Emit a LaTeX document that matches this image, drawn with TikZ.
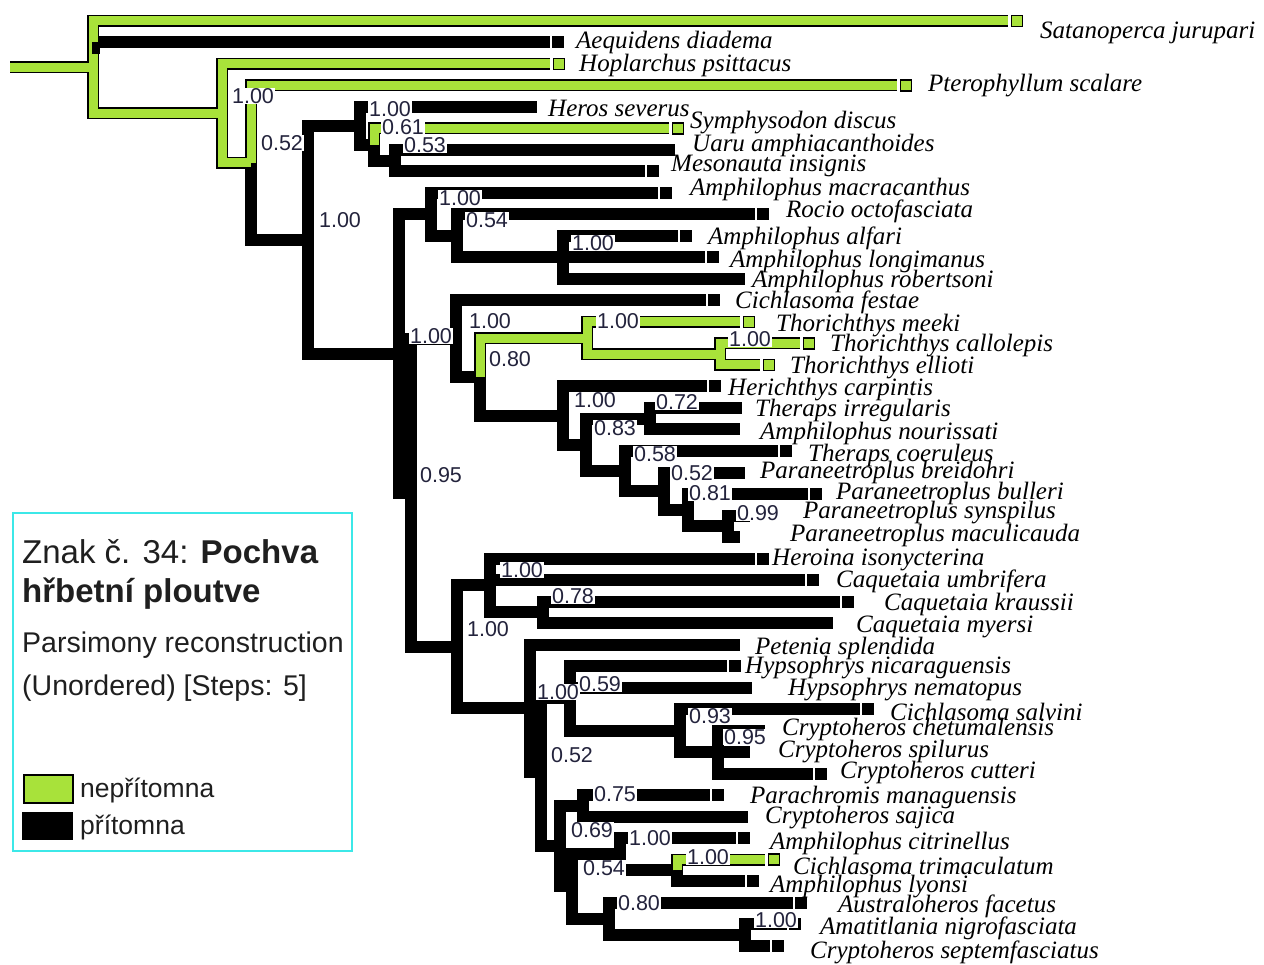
\documentclass[tikz,border=0pt]{standalone}
\usepackage{fontspec}
\setmainfont{Liberation Serif}
\setsansfont{Liberation Sans}
\definecolor{lgreen}{RGB}{168,226,58}
\definecolor{legcyan}{RGB}{60,232,232}
\definecolor{svcol}{RGB}{35,35,60}
\begin{document}
\begin{tikzpicture}[x=1pt,y=-1pt,
  br/.style={line width=12pt, line join=miter, draw=black},
  grn/.style={line width=9pt, line join=miter, draw=lgreen},
  sqB/.style={fill=black, minimum size=12pt, inner sep=0pt, anchor=west},
  sqG/.style={fill=lgreen, draw=black, line width=1.5pt, minimum size=11pt, inner sep=0pt, anchor=west},
  sp/.style={anchor=west, inner sep=0pt, font=\fontsize{25}{27}\selectfont\itshape},
  sv/.style={fill=white, inner sep=0.8pt, text=svcol, font=\sffamily\fontsize{21.5}{22}\selectfont},
  lg/.style={anchor=west, inner sep=0pt, text={black!88}},
]
\useasboundingbox (0,0) rectangle (1264,965);

% ---------- internal nodes ----------
\coordinate (root) at (10,67.2);
\coordinate (R0) at (93,67.2);
\coordinate (A)  at (222,113.3);
\coordinate (B)  at (251,162.6);
\coordinate (C)  at (308,239.7);
\coordinate (D)  at (360,125.8);
\coordinate (D2) at (374,144.6);
\coordinate (D3) at (395,160.75);
\coordinate (E)  at (399,353.6);
\coordinate (F)  at (431,214.5);
\coordinate (F2) at (457,236);
\coordinate (F3) at (563,257.5);
\coordinate (G)  at (411,492.8);
\coordinate (H)  at (456,338.7);
\coordinate (H2) at (480,376.9);
\coordinate (T1) at (587,338.1);
\coordinate (T2) at (720,354.25);
\coordinate (K1) at (563,415.7);
\coordinate (K2) at (586,445);
\coordinate (K3) at (650,418.75);
\coordinate (K4) at (625,471.2);
\coordinate (K5) at (664,491.3);
\coordinate (K6) at (688,510.1);
\coordinate (K7) at (728,526.25);
\coordinate (I)  at (457,646.9);
\coordinate (J)  at (490,585.4);
\coordinate (J2) at (543,612.25);
\coordinate (L)  at (530,708.3);
\coordinate (L2) at (541,772.2);
\coordinate (Hy) at (570,698.25);
\coordinate (S)  at (680,730.5);
\coordinate (S2) at (718,752);
\coordinate (M)  at (560,846.1);
\coordinate (PS) at (583,805.75);
\coordinate (N)  at (572,886.4);
\coordinate (CT) at (620,854.1);
\coordinate (TL) at (677,870.25);
\coordinate (Q)  at (609,918.6);
\coordinate (R)  at (745,934.75);

% ---------- terminal branch ends ----------
\coordinate (t1)  at (1008,21);
\coordinate (t2)  at (550,42.5);
\coordinate (t3)  at (550,64);
\coordinate (t4)  at (897,85.5);
\coordinate (t5)  at (537,107);
\coordinate (t6)  at (669,128.5);
\coordinate (t7)  at (675,150);
\coordinate (t8)  at (645,171.5);
\coordinate (t9)  at (658,193);
\coordinate (t10) at (755,214.5);
\coordinate (t11) at (678,236);
\coordinate (t12) at (705,257.5);
\coordinate (t13) at (745,279);
\coordinate (t14) at (706,300.5);
\coordinate (t15) at (740,322);
\coordinate (t16) at (800,343.5);
\coordinate (t17) at (760,365);
\coordinate (t18) at (707,386.5);
\coordinate (t19) at (742,408);
\coordinate (t20) at (740,429.5);
\coordinate (t21) at (778,451);
\coordinate (t22) at (745,472.5);
\coordinate (t23) at (808,494);
\coordinate (t24) at (750,515.5);
\coordinate (t25) at (740,537);
\coordinate (t26) at (755,558.5);
\coordinate (t27) at (805,580);
\coordinate (t28) at (840,601.5);
\coordinate (t29) at (833,623);
\coordinate (t30) at (740,644.5);
\coordinate (t31) at (727,666);
\coordinate (t32) at (752,687.5);
\coordinate (t33) at (860,709);
\coordinate (t34) at (765,730.5);
\coordinate (t35) at (750,752);
\coordinate (t36) at (813,773.5);
\coordinate (t37) at (710,795);
\coordinate (t38) at (748,816.5);
\coordinate (t39) at (736,838);
\coordinate (t40) at (765,859.5);
\coordinate (t41) at (745,881);
\coordinate (t42) at (793,902.5);
\coordinate (t43) at (787,924);
\coordinate (t44) at (770,945.5);

% ---------- branches: black body ----------
\draw[br] (root) -- (R0);
\foreach \p/\c in {R0/t1,R0/t2,R0/A,A/t3,A/B,B/t4,B/C,C/D,C/E,D/t5,D/D2,D2/t6,D2/D3,
  D3/t7,D3/t8,E/F,E/G,F/t9,F/F2,F2/t10,F2/F3,F3/t11,F3/t12,F3/t13,G/H,G/I,H/t14,H/H2,
  H2/T1,H2/K1,T1/t15,T1/T2,T2/t16,T2/t17,K1/t18,K1/K2,K2/K3,K2/K4,K3/t19,K3/t20,
  K4/t21,K4/K5,K5/t22,K5/K6,K6/t23,K6/K7,K7/t24,K7/t25,I/J,I/L,J/t26,J/t27,J/J2,
  J2/t28,J2/t29,L/t30,L/L2,L2/Hy,L2/M,Hy/t31,Hy/t32,Hy/S,S/t33,S/S2,S2/t34,S2/t35,
  S2/t36,M/PS,M/N,PS/t37,PS/t38,N/CT,N/Q,CT/t39,CT/TL,TL/t40,TL/t41,Q/t42,Q/R,
  R/t43,R/t44}
  \draw[br] (\p) |- (\c);

% ---------- branches with the "absent" state ----------
\draw[grn] (root) -- (R0);
\foreach \p/\c in {R0/t1,R0/A,A/t3,A/B,B/t4,D2/t6,H2/T1,T1/t15,T1/T2,T2/t16,T2/t17,TL/t40}
  \draw[grn] (\p) |- (\c);
% change of state on the root stem
\draw[line width=8pt] ([xshift=3pt]R0 |- t2) -- ([xshift=3pt,yshift=13pt]R0);

% ---------- tip states ----------
\foreach \t in {t2,t8,t9,t10,t11,t12,t14,t18,t21,t23,t26,t27,t28,t31,t33,t36,t37,t39,t41,t42,t43,t44}
  \node[sqB] (sq\t) at ([xshift=2pt]\t) {};
\foreach \t in {t1,t3,t4,t6,t15,t16,t17,t40}
  \node[sqG] (sq\t) at ([xshift=2.5pt]\t) {};

% ---------- support values ----------
\node[sv] (s1)  at (253,96)  {1.00};
\node[sv] (s2)  at (282,143) {0.52};
\node[sv] (s3)  at (340,220) {1.00};
\node[sv] (s4)  at (390,109) {1.00};
\node[sv] (s5)  at (403,127) {0.61};
\node[sv] (s6)  at (425,145) {0.53};
\node[sv] (s7)  at (460,198) {1.00};
\node[sv] (s8)  at (487,220) {0.54};
\node[sv] (s9)  at (593,243) {1.00};
\node[sv] (s10) at (431,336) {1.00};
\node[sv] (s11) at (441,475) {0.95};
\node[sv] (s12) at (490,321) {1.00};
\node[sv] (s13) at (510,359) {0.80};
\node[sv] (s14) at (618,321) {1.00};
\node[sv] (s15) at (750,339) {1.00};
\node[sv] (s16) at (595,400) {1.00};
\node[sv] (s17) at (677,402) {0.72};
\node[sv] (s18) at (615,428) {0.83};
\node[sv] (s19) at (655,454) {0.58};
\node[sv] (s20) at (692,473) {0.52};
\node[sv] (s21) at (710,493) {0.81};
\node[sv] (s22) at (758,513) {0.99};
\node[sv] (s23) at (522,570) {1.00};
\node[sv] (s24) at (573,596) {0.78};
\node[sv] (s25) at (488,629) {1.00};
\node[sv] (s26) at (558,692) {1.00};
\node[sv] (s27) at (600,684) {0.59};
\node[sv] (s28) at (572,755) {0.52};
\node[sv] (s29) at (710,716) {0.93};
\node[sv] (s30) at (745,737) {0.95};
\node[sv] (s31) at (615,794) {0.75};
\node[sv] (s32) at (592,830) {0.69};
\node[sv] (s33) at (650,838) {1.00};
\node[sv] (s34) at (708,857) {1.00};
\node[sv] (s35) at (604,868) {0.54};
\node[sv] (s36) at (639,903) {0.80};
\node[sv] (s37) at (776,920) {1.00};

% ---------- taxon names ----------
\node[sp] (n1)  at (1040,33)  {Satanoperca jurupari};
\node[sp] (n2)  at (576,42)   {Aequidens diadema};
\node[sp] (n3)  at (579,65)   {Hoplarchus psittacus};
\node[sp] (n4)  at (928,86)   {Pterophyllum scalare};
\node[sp] (n5)  at (548,108)  {Heros severus};
\node[sp] (n6)  at (690,123)  {Symphysodon discus};
\node[sp] (n7)  at (692,145)  {Uaru amphiacanthoides};
\node[sp] (n8)  at (671,166)  {Mesonauta insignis};
\node[sp] (n9)  at (690,189)  {Amphilophus macracanthus};
\node[sp] (n10) at (786,211)  {Rocio octofasciata};
\node[sp] (n11) at (708,238)  {Amphilophus alfari};
\node[sp] (n12) at (730,261)  {Amphilophus longimanus};
\node[sp] (n13) at (752,281)  {Amphilophus robertsoni};
\node[sp] (n14) at (735,302)  {Cichlasoma festae};
\node[sp] (n15) at (776,326)  {Thorichthys meeki};
\node[sp] (n16) at (830,346)  {Thorichthys callolepis};
\node[sp] (n17) at (790,368)  {Thorichthys ellioti};
\node[sp] (n18) at (728,390)  {Herichthys carpintis};
\node[sp] (n19) at (755,410)  {Theraps irregularis};
\node[sp] (n20) at (760,433)  {Amphilophus nourissati};
\node[sp] (n21) at (808,455)  {Theraps coeruleus};
\node[sp] (n22) at (760,472)  {Paraneetroplus breidohri};
\node[sp] (n23) at (836,493)  {Paraneetroplus bulleri};
\node[sp] (n24) at (803,513)  {Paraneetroplus synspilus};
\node[sp] (n25) at (790,535)  {Paraneetroplus maculicauda};
\node[sp] (n26) at (772,560)  {Heroina isonycterina};
\node[sp] (n27) at (836,581)  {Caquetaia umbrifera};
\node[sp] (n28) at (884,604)  {Caquetaia kraussii};
\node[sp] (n29) at (856,627)  {Caquetaia myersi};
\node[sp] (n30) at (755,648)  {Petenia splendida};
\node[sp] (n31) at (745,668)  {Hypsophrys nicaraguensis};
\node[sp] (n32) at (788,690)  {Hypsophrys nematopus};
\node[sp] (n33) at (890,712)  {Cichlasoma salvini};
\node[sp] (n34) at (782,730)  {Cryptoheros chetumalensis};
\node[sp] (n35) at (778,752)  {Cryptoheros spilurus};
\node[sp] (n36) at (840,773)  {Cryptoheros cutteri};
\node[sp] (n37) at (750,797)  {Parachromis managuensis};
\node[sp] (n38) at (765,818)  {Cryptoheros sajica};
\node[sp] (n39) at (770,843)  {Amphilophus citrinellus};
\node[sp] (n40) at (793,866)  {Cichlasoma trimaculatum};
\node[sp] (n41) at (770,887)  {Amphilophus lyonsi};
\node[sp] (n42) at (838,906)  {Australoheros facetus};
\node[sp] (n43) at (820,928)  {Amatitlania nigrofasciata};
\node[sp] (n44) at (810,952)  {Cryptoheros septemfasciatus};

% ---------- legend ----------
\draw[legcyan, line width=2pt] (13,513) rectangle (352,851);
\node[lg, font=\sffamily\fontsize{33}{35}\selectfont] (ttl1) at (22,552) {Znak č. 34: \textbf{Pochva}};
\node[lg, font=\sffamily\fontsize{33}{35}\selectfont] (ttl2) at (22,594) {\textbf{hřbetní ploutve}};
\node[lg, font=\sffamily\fontsize{28.5}{30}\selectfont] (sub1) at (22,645) {Parsimony reconstruction};
\node[lg, font=\sffamily\fontsize{28.5}{30}\selectfont] (sub2) at (22,688) {(Unordered) [Steps: 5]};
\node[draw=black, fill=lgreen, line width=2pt, minimum width=49pt, minimum height=28pt,
  inner sep=0pt, anchor=north west] (swG) at (23,774) {};
\node[fill=black, minimum width=51pt, minimum height=28pt, inner sep=0pt,
  anchor=north west] (swB) at (22,812) {};
\node[lg, font=\sffamily\fontsize{26.5}{28}\selectfont] (lgG) at (80,790) {nepřítomna};
\node[lg, font=\sffamily\fontsize{26.5}{28}\selectfont] (lgB) at (80,827) {přítomna};
\end{tikzpicture}
\end{document}
